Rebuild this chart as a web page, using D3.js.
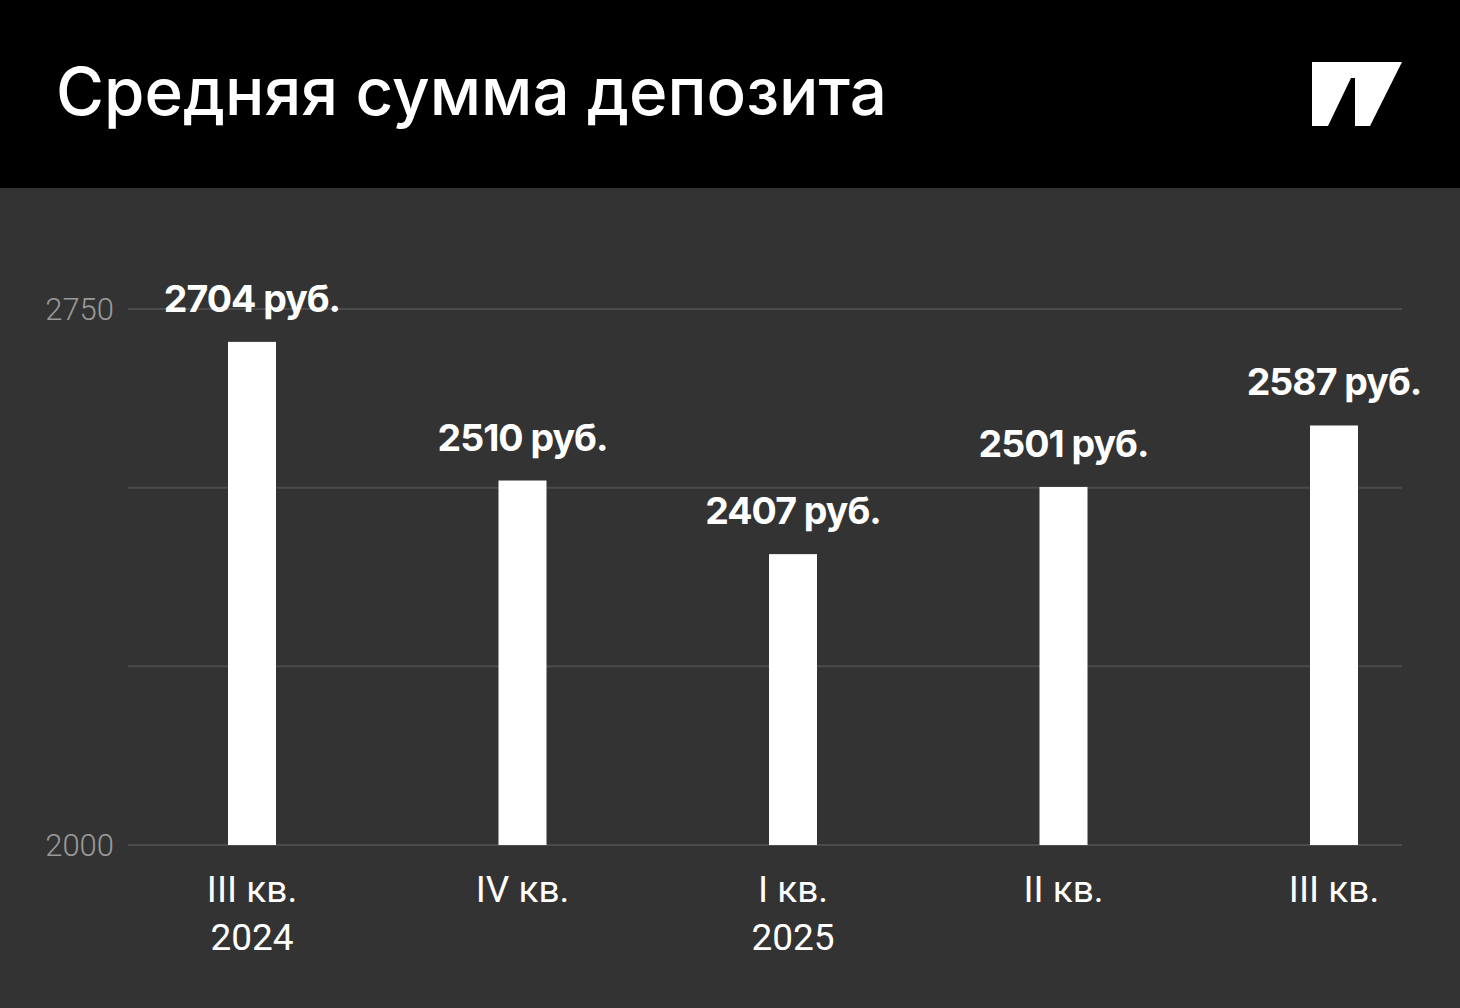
<!DOCTYPE html>
<html><head><meta charset="utf-8">
<script src="https://cdn.jsdelivr.net/npm/d3@7/dist/d3.min.js"></script>
<style>html,body{margin:0;padding:0;background:#333;}svg{display:block;}</style>
</head><body>
<svg id="chart" width="1460" height="1008"></svg>
<script>
const title = "Средняя сумма депозита";
const quarters = ["III кв.", "IV кв.", "I кв.", "II кв.", "III кв."];
const years = ["2024", "", "2025", "", ""];
const values = [2704, 2510, 2407, 2501, 2587];
const valueLabels = ["2704 руб.", "2510 руб.", "2407 руб.", "2501 руб.", "2587 руб."];
const gridValues = [2000, 2250, 2500, 2750];
const tickLabels = [2000, 2750];

const svg = d3.select("#chart");
svg.append("rect").attr("width",1460).attr("height",1008).attr("fill","#333333");
svg.append("rect").attr("width",1460).attr("height",188).attr("fill","#000");

const t = svg.append("text").attr("x",56).attr("y",115).attr("fill","#fff")
  .style("font-family","Inter, 'Noto Sans', sans-serif").style("font-weight",500)
  .style("font-size","58px").text(title);
const tl = t.node().getComputedTextLength();
t.style("font-size", (58*831/tl).toFixed(2)+"px");

// logo
svg.append("path").attr("fill","#fff")
  .attr("d","M1312,62 L1402,62 L1370,126 L1355,126 L1355,78 L1351,78 L1328,126 L1312,126 Z");

const idx = d3.range(values.length);
const x = d3.scalePoint().domain(idx).range([252,1334]);
const y = d3.scaleLinear().domain([2000,2750]).range([845,309]);

svg.append("g").selectAll("line").data(gridValues).join("line")
  .attr("x1",128).attr("x2",1402).attr("y1",d=>y(d)).attr("y2",d=>y(d))
  .attr("stroke","#4b4b4b").attr("stroke-width",2);

svg.append("g").selectAll("text").data(tickLabels).join("text")
  .attr("x",114).attr("y",d=>y(d)).attr("dy","0.36em").attr("text-anchor","end")
  .attr("fill","#9a9a9a").style("font-family","Roboto, sans-serif").style("font-weight",300)
  .style("font-size","31px").text(d=>d);

const bw = 48;
svg.append("g").selectAll("rect").data(idx).join("rect")
  .attr("x",i=>x(i)-bw/2).attr("width",bw)
  .attr("y",i=>y(values[i])).attr("height",i=>y(2000)-y(values[i]))
  .attr("fill","#fff");

svg.append("g").selectAll("text").data(idx).join("text")
  .attr("x",i=>x(i)).attr("y",i=>y(values[i])-30).attr("text-anchor","middle")
  .attr("fill","#fff").style("font-family","Inter, sans-serif").style("font-weight",700)
  .style("font-size","37.5px").style("letter-spacing","-1px").text(i=>valueLabels[i]);

const xl = svg.append("g").style("font-family","Roboto, sans-serif").style("font-weight",400)
  .style("font-size","37px").attr("fill","#fff").attr("text-anchor","middle");
xl.selectAll("text.q").data(idx).join("text").attr("class","q")
  .attr("x",i=>x(i)).attr("y",902).text(i=>quarters[i]);
xl.selectAll("text.y").data(idx.filter(i=>years[i])).join("text").attr("class","y")
  .attr("x",i=>x(i)).attr("y",950).text(i=>years[i]);
</script>
</body></html>
